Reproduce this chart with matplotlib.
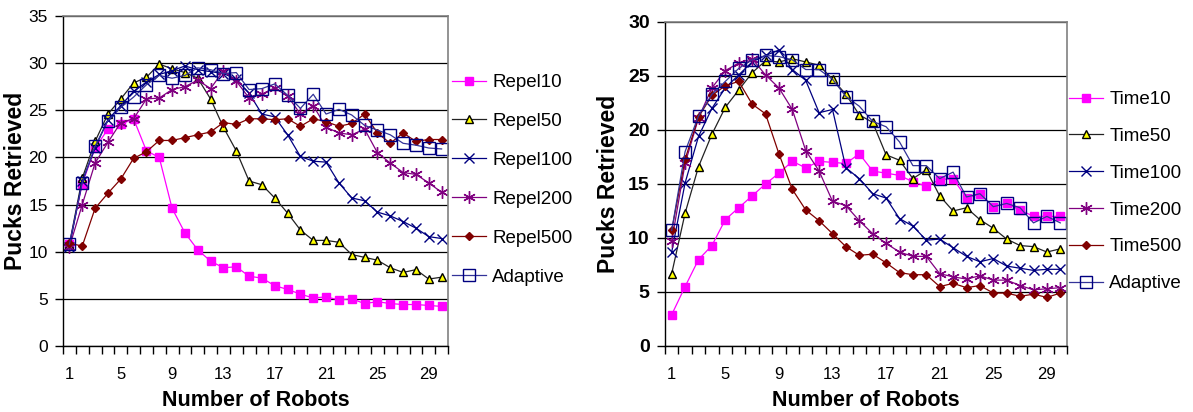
import numpy as np
import matplotlib.pyplot as plt
from matplotlib.ticker import FixedLocator

plt.rcParams['font.family'] = ['Liberation Sans', 'DejaVu Sans']

robots = np.arange(1, 31)
x_labels = [1, 5, 9, 13, 17, 21, 25, 29]

# left panel: repel strategies
repel10 = [10.8, 17.2, 21.0, 23.0, 23.5, 24.1, 20.7, 20.0, 14.6, 12.0, 10.2, 9.0, 8.3, 8.4, 7.4,
           7.2, 6.4, 6.0, 5.5, 5.1, 5.2, 4.9, 5.0, 4.5, 4.7, 4.5, 4.4, 4.4, 4.3, 4.2]
repel50 = [10.8, 17.8, 21.7, 24.6, 26.2, 27.9, 28.5, 29.9, 29.4, 29.0, 28.4, 26.2, 23.2, 20.7, 17.5,
           17.1, 15.7, 14.1, 12.3, 11.2, 11.2, 11.0, 9.7, 9.4, 9.1, 8.3, 7.8, 8.1, 7.1, 7.3]
repel100 = [10.5, 17.5, 21.0, 24.0, 25.5, 27.0, 28.0, 28.8, 29.2, 29.7, 29.3, 29.1, 28.9, 28.3, 26.8,
            24.6, 24.3, 22.4, 20.1, 19.6, 19.5, 17.3, 15.7, 15.4, 14.2, 13.8, 13.2, 12.5, 11.6, 11.4]
repel200 = [10.5, 15.0, 19.4, 21.6, 23.7, 24.1, 26.2, 26.3, 27.2, 27.5, 28.2, 27.3, 29.2, 28.1, 26.3,
            26.7, 27.4, 26.5, 24.6, 25.5, 23.2, 22.6, 22.4, 23.0, 20.5, 19.4, 18.4, 18.2, 17.3, 16.3]
repel500 = [10.9, 10.6, 14.6, 16.2, 17.7, 19.9, 20.6, 21.8, 21.8, 22.1, 22.4, 22.7, 23.7, 23.5, 24.1,
            24.1, 24.0, 24.1, 23.3, 24.1, 23.8, 23.3, 23.6, 24.6, 22.6, 21.5, 22.6, 21.7, 21.9, 21.9]
adaptive_left = [10.8, 17.3, 21.2, 23.9, 25.3, 26.4, 27.7, 28.7, 28.4, 28.7, 29.5, 29.3, 28.9, 29.0, 27.2,
                 27.3, 27.8, 26.6, 25.2, 26.7, 24.6, 25.1, 24.5, 23.4, 22.9, 22.4, 21.5, 21.3, 21.0, 20.9]

# right panel: time strategies
time10 = [2.9, 5.5, 8.0, 9.3, 11.7, 12.8, 13.9, 15.0, 16.0, 17.1, 16.5, 17.1, 17.0, 16.9, 17.8,
          16.2, 16.0, 15.8, 15.2, 14.8, 15.4, 15.5, 13.7, 14.1, 12.9, 13.2, 12.6, 12.0, 12.0, 12.0]
time50 = [6.7, 12.3, 16.6, 19.6, 22.1, 23.7, 25.3, 26.4, 26.3, 26.6, 26.3, 26.0, 24.7, 23.3, 21.4,
          20.7, 17.7, 17.2, 15.5, 16.3, 13.9, 12.5, 12.8, 11.7, 10.9, 9.9, 9.3, 9.2, 8.7, 9.0]
time100 = [8.7, 15.1, 19.4, 22.0, 23.9, 25.1, 26.3, 26.9, 27.4, 25.6, 24.6, 21.6, 21.9, 16.5, 15.5,
           14.1, 13.7, 11.8, 11.1, 9.8, 9.9, 9.1, 8.3, 7.8, 8.1, 7.4, 7.2, 7.0, 7.1, 7.1]
time200 = [9.7, 16.9, 21.1, 23.9, 25.5, 26.2, 26.6, 25.1, 23.9, 21.9, 18.1, 16.2, 13.4, 13.0, 11.6,
           10.4, 9.5, 8.7, 8.3, 8.3, 6.7, 6.4, 6.2, 6.5, 6.1, 6.1, 5.6, 5.2, 5.3, 5.4]
time500 = [10.7, 17.3, 21.2, 23.2, 24.1, 24.5, 22.4, 21.5, 17.8, 14.5, 12.6, 11.6, 10.4, 9.2, 8.4,
           8.5, 7.7, 6.8, 6.6, 6.6, 5.5, 5.8, 5.4, 5.6, 4.9, 4.9, 4.6, 4.8, 4.5, 4.9]
adaptive_right = [10.7, 18.0, 21.3, 23.3, 24.5, 25.7, 26.5, 26.9, 26.8, 26.5, 25.6, 25.6, 24.7, 23.1, 22.2,
                  20.8, 20.3, 18.9, 16.7, 16.7, 15.5, 16.1, 13.8, 14.1, 12.9, 13.2, 12.8, 11.4, 12.0, 11.4]

# excel-ish marker styles, same order for both panels
styles = [
    dict(color='#FF00FF', marker='s', ms=6, mfc='#FF00FF', mec='#FF00FF'),
    dict(color='#222222', marker='^', ms=6, mfc='#FFFF00', mec='black'),
    dict(color='#000080', marker='x', ms=7, mew=1.0),
    dict(color='#800080', marker=(6, 2, 0), ms=9, mew=1.0),
    dict(color='#800000', marker='D', ms=4.5, mfc='#800000', mec='#800000'),
    dict(color='#333399', marker='s', ms=8, mfc='none', mec='#000080', mew=1.0),
]


def panel(ax, series, names, ymax, bold_y, ypad):
    for vals, name, st in zip(series, names, styles):
        ax.plot(robots, vals, lw=0.9, label=name, **st)
    ax.set_xlim(0.5, 30.5)
    ax.set_ylim(0, ymax)
    ax.set_yticks(np.arange(0, ymax + 1, 5))
    ax.yaxis.grid(True, color='black', lw=0.9)
    ax.set_axisbelow(True)
    ax.set_xticks(x_labels)
    ax.xaxis.set_minor_locator(FixedLocator(np.arange(0.5, 31, 1)))
    ax.tick_params(axis='x', which='major', length=0, pad=15, labelsize=12)
    ax.tick_params(axis='x', which='minor', length=6, width=1, direction='out')
    ax.tick_params(axis='y', length=6, width=1, direction='out', pad=5)
    if bold_y:
        for t in ax.get_yticklabels():
            t.set_fontweight('bold')
            t.set_fontsize(14)
    else:
        ax.tick_params(axis='y', labelsize=12.5)
    for s in ['top', 'right']:
        ax.spines[s].set_color('#808080')
        ax.spines[s].set_linewidth(1.2)
    for s in ['left', 'bottom']:
        ax.spines[s].set_linewidth(1.0)
    ax.set_xlabel('Number of Robots', fontsize=15.5, fontweight='bold', labelpad=6)
    ax.set_ylabel('Pucks Retrieved', fontsize=16.5, fontweight='bold', labelpad=ypad)


W, H = 1193, 412
fig = plt.figure(figsize=(W / 100, H / 100), dpi=100)
ax1 = fig.add_axes([63 / W, (H - 346) / H, (448 - 63) / W, (346 - 16) / H])
ax2 = fig.add_axes([665 / W, (H - 346) / H, (1067 - 665) / W, (346 - 22) / H])

panel(ax1, [repel10, repel50, repel100, repel200, repel500, adaptive_left],
      ['Repel10', 'Repel50', 'Repel100', 'Repel200', 'Repel500', 'Adaptive'], 35, False, 1)
panel(ax2, [time10, time50, time100, time200, time500, adaptive_right],
      ['Time10', 'Time50', 'Time100', 'Time200', 'Time500', 'Adaptive'], 30, True, 6)

ax1.legend(loc='upper left', bbox_to_anchor=(452 / W, 1 - 74 / H), bbox_transform=fig.transFigure,
           frameon=False, fontsize=13.5, handlelength=1.8, handletextpad=0.35, labelspacing=1.16,
           borderaxespad=0, borderpad=0)
ax2.legend(loc='upper left', bbox_to_anchor=(1069 / W, 1 - 91 / H), bbox_transform=fig.transFigure,
           frameon=False, fontsize=13.5, handlelength=1.8, handletextpad=0.35, labelspacing=1.05,
           borderaxespad=0, borderpad=0)

fig.savefig('out.png', dpi=100)
